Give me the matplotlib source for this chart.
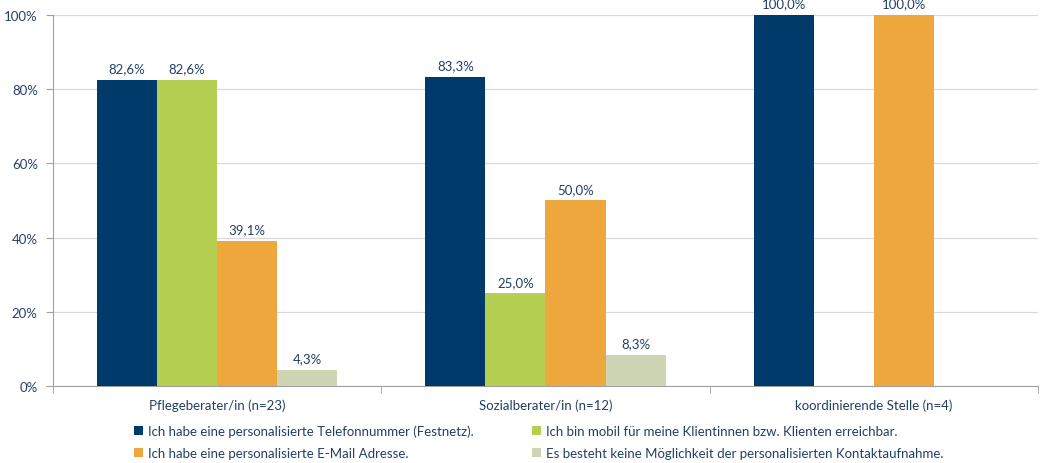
import numpy as np
import matplotlib
matplotlib.use("Agg")
import matplotlib.pyplot as plt
from matplotlib.patches import Patch

# daten
gruppen = ["Pflegeberater/in (n=23)", "Sozialberater/in (n=12)", "koordinierende Stelle (n=4)"]
serien = [
    "Ich habe eine personalisierte Telefonnummer (Festnetz).",
    "Ich bin mobil für meine Klientinnen bzw. Klienten erreichbar.",
    "Ich habe eine personalisierte E-Mail Adresse.",
    "Es besteht keine Möglichkeit der personalisierten Kontaktaufnahme.",
]
telefon = [82.6, 83.3, 100.0]
mobil = [82.6, 25.0, 0.0]
email = [39.1, 50.0, 100.0]
keine = [4.3, 8.3, 0.0]
farben = ["#003A6B", "#B5CF52", "#EDA73D", "#CDD5B4"]
yticks = [0, 20, 40, 60, 80, 100]

textfarbe = "#243F66"
plt.rcParams["font.family"] = ["Lato", "DejaVu Sans"]

fig = plt.figure(figsize=(10.4, 4.64), dpi=100)
ax = fig.add_axes([0.051, 0.166, 0.947, 0.7995])

x = np.arange(len(gruppen))
breite = 0.183
werte = [telefon, mobil, email, keine]
for i, (w, f) in enumerate(zip(werte, farben)):
    pos = x + (i - 1.5) * breite
    bars = ax.bar(pos, w, breite, color=f, zorder=3)
    for b, v in zip(bars, w):
        if v > 0:
            ax.text(b.get_x() + b.get_width() / 2, v + 1.5, ("%.1f%%" % v).replace(".", ","),
                    ha="center", va="bottom", fontsize=9.5, color=textfarbe, zorder=4)

ax.set_xlim(-0.5, 2.5)
ax.set_ylim(0, 100)
ax.set_yticks(yticks)
ax.set_yticklabels(["%d%%" % t for t in yticks], fontsize=9.5, color=textfarbe)
ax.set_xticks(x)
ax.set_xticklabels(gruppen, fontsize=9.5, color=textfarbe)
ax.tick_params(axis="x", which="major", length=0, pad=9)
ax.set_xticks([-0.5, 0.5, 1.5, 2.5], minor=True)
ax.tick_params(axis="x", which="minor", length=5, color="#A0A0A0", direction="out")
ax.tick_params(axis="y", length=5, color="#A0A0A0", pad=6)
ax.grid(axis="y", color="#D9D9D9", linewidth=0.9, zorder=0)
for s in ["top", "right"]:
    ax.spines[s].set_visible(False)
ax.spines["left"].set_color("#A0A0A0")
ax.spines["bottom"].set_color("#A0A0A0")

# reihenfolge: zeilenweise wie im original
ordnung = [0, 2, 1, 3]
handles = [Patch(facecolor=farben[k], edgecolor="none") for k in ordnung]
labels = [serien[k] for k in ordnung]
leg = fig.legend(handles, labels, loc="upper left", bbox_to_anchor=(0.129, 0.083), ncol=2,
                 frameon=False, fontsize=9.5, handlelength=0.7, handleheight=0.7,
                 handletextpad=0.35, columnspacing=4.4, labelspacing=0.75, borderaxespad=0,
                 borderpad=0)
for t in leg.get_texts():
    t.set_color(textfarbe)

fig.savefig("out.png", dpi=100)
